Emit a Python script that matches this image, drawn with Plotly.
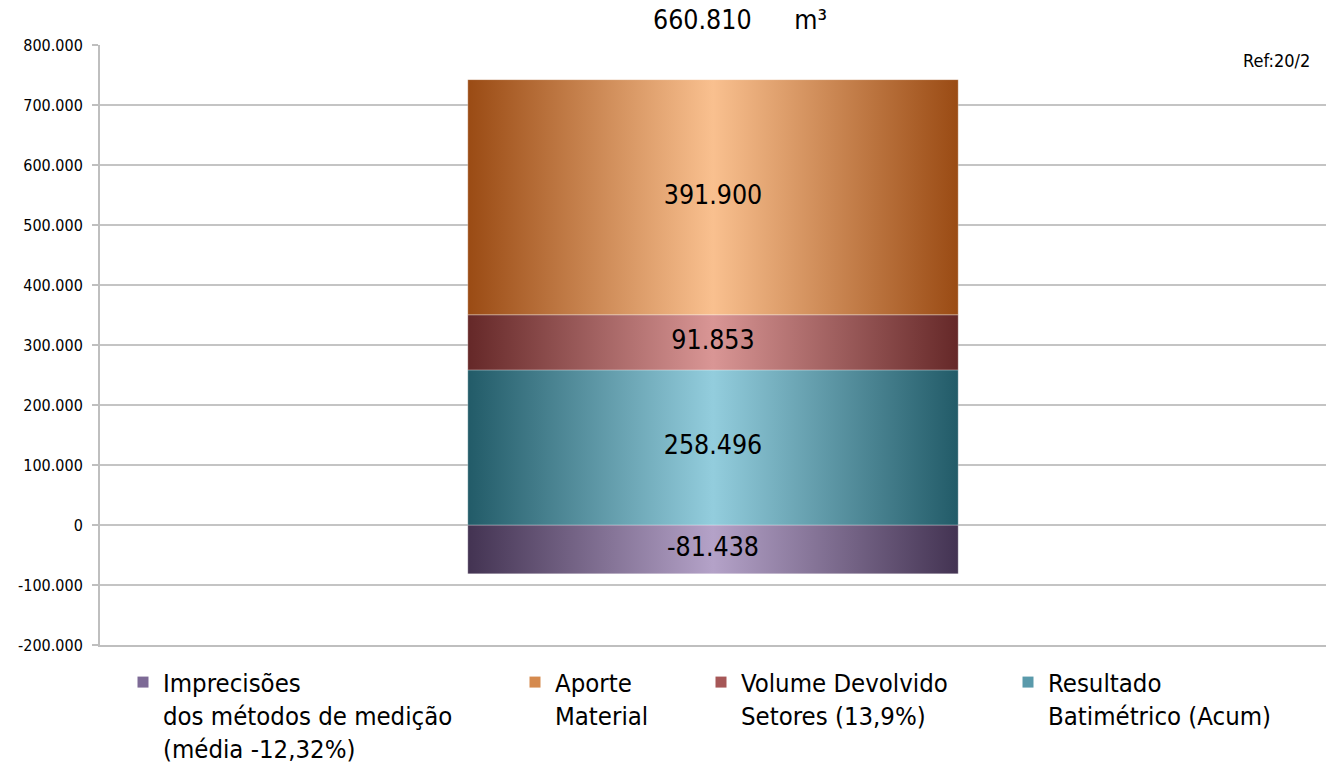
import plotly.graph_objects as go

# ---- data ----
series_names = [
    "Imprecisões<br>dos métodos de medição<br>(média -12,32%)",
    "Aporte<br>Material",
    "Volume Devolvido<br>Setores (13,9%)",
    "Resultado<br>Batimétrico (Acum)",
]
series_values = [-81438, 391900, 91853, 258496]
stack_order = [3, 2, 1]          # positive stacking from bottom: Resultado, Volume, Aporte
negative_index = 0
title_text = "660.810     \u2009m³"
ref_text = "Ref:20/2"
y_ticks = [-200000, -100000, 0, 100000, 200000, 300000, 400000, 500000, 600000, 700000, 800000]

edge_colors = ["#433352", "#9a4b14", "#652828", "#225b68"]
center_colors = ["#b4a2c8", "#f9c08f", "#d99695", "#93cddd"]
legend_colors = ["#7d6a96", "#d58a4e", "#a65757", "#5a9aab"]
legend_text_px = [163, 555, 741, 1048]

FONT = "DejaVu Sans Condensed, DejaVu Sans, sans-serif"
W, H = 1330, 763
ML, MR, MT, MB = 100, 4, 45, 118
plot_w = W - ML - MR
plot_h = H - MT - MB

cat_x = 0.0
half_w = 0.2

fig = go.Figure()


def fmt(v):
    return f"{v:,}".replace(",", ".")


# compute segments
segments = {}
segments[negative_index] = (series_values[negative_index], 0)
base = 0
for i in stack_order:
    segments[i] = (base, base + series_values[i])
    base += series_values[i]

label_x, label_y, label_t = [], [], []
for i, (b, t) in segments.items():
    xs = [cat_x - half_w, cat_x + half_w, cat_x + half_w, cat_x - half_w, cat_x - half_w]
    ys = [b, b, t, t, b]
    fig.add_trace(go.Scatter(
        x=xs, y=ys, mode="lines", fill="toself",
        line=dict(width=0.6, color="rgba(255,255,255,0.5)"),
        fillgradient=dict(type="horizontal",
                          colorscale=[[0, edge_colors[i]], [0.5, center_colors[i]], [1, edge_colors[i]]]),
        showlegend=False, hoverinfo="skip",
    ))
    label_x.append(cat_x)
    label_y.append((b + t) / 2)
    label_t.append(fmt(series_values[i]))

fig.add_trace(go.Scatter(
    x=label_x, y=label_y, text=label_t, mode="text",
    textfont=dict(family=FONT, size=26.5, color="#000000"),
    showlegend=False, hoverinfo="skip",
))

# legend entries
legend_ids = ["legend", "legend2", "legend3", "legend4"]
for i, name in enumerate(series_names):
    fig.add_trace(go.Scatter(
        x=[None], y=[None], mode="markers", name=name,
        marker=dict(symbol="square", size=11, color=legend_colors[i]),
        legend=legend_ids[i], showlegend=True,
    ))

legend_common = dict(
    orientation="v", xanchor="left", yanchor="top", valign="top",
    font=dict(family=FONT, size=25.5, color="#000000"),
    bgcolor="rgba(0,0,0,0)", borderwidth=0, itemwidth=30,
    tracegroupgap=0,
)
legends = {}
for i, lid in enumerate(legend_ids):
    legends[lid] = dict(legend_common, x=(legend_text_px[i] - 40 - ML) / plot_w,
                        y=-(659 - (H - MB)) / plot_h)

fig.update_layout(
    width=W, height=H,
    margin=dict(l=ML, r=MR, t=MT, b=MB, autoexpand=False),
    paper_bgcolor="white", plot_bgcolor="white",
    separators=",.",
    font=dict(family=FONT, color="#000000"),
    **legends,
    xaxis=dict(range=[-0.5, 0.5], showgrid=False, zeroline=False, showticklabels=False,
               showline=True, linecolor="#bfbfbf", linewidth=2, ticks="", fixedrange=True),
    yaxis=dict(range=[-200000, 800000], tickvals=y_ticks, ticktext=[fmt(v) for v in y_ticks],
               showgrid=True, gridcolor="#c4c4c4", gridwidth=2,
               zeroline=True, zerolinecolor="#c4c4c4", zerolinewidth=2,
               showline=True, linecolor="#bfbfbf", linewidth=2,
               ticks="outside", ticklen=6, tickcolor="#bfbfbf", tickwidth=2,
               tickfont=dict(family=FONT, size=16, color="#000000"),
               ticklabelstandoff=6),
    annotations=[
        dict(text=title_text, x=(740 - ML) / plot_w, y=(H - MB - 20) / plot_h,
             xref="paper", yref="paper", showarrow=False,
             font=dict(family=FONT, size=26.5, color="#000000"), xanchor="center", yanchor="middle"),
        dict(text=ref_text, x=(1312 - ML) / plot_w, y=(H - MB - 60) / plot_h,
             xref="paper", yref="paper", showarrow=False,
             font=dict(family=FONT, size=18, color="#000000"), xanchor="right", yanchor="middle"),
    ],
)

fig.write_html("out.html", config={"displayModeBar": False},
               post_script="document.body.style.margin='0px';")
